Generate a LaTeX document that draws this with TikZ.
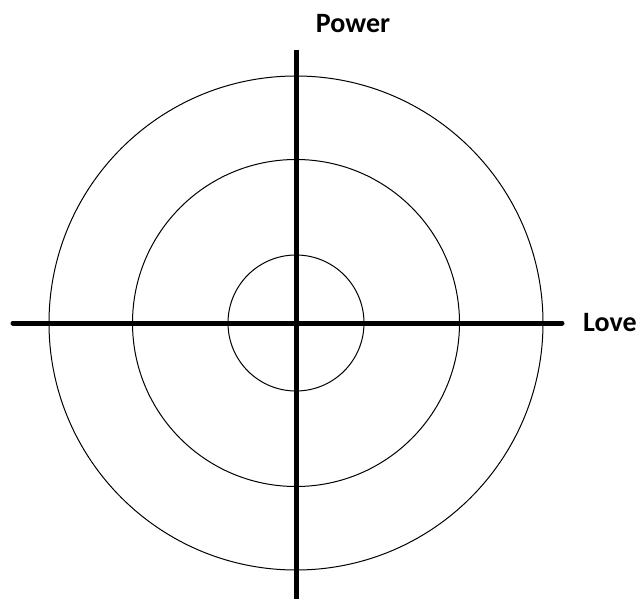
\documentclass[tikz,border=0pt]{standalone}
\usepackage{fontspec}
\setmainfont{Carlito}
\begin{document}
\begin{tikzpicture}[x=1pt,y=-1pt,
  ring/.style={draw=black,line width=1pt},
  axis/.style={draw=black,line width=5pt,line cap=round},
  lbl/.style={font=\bfseries\fontsize{28}{31}\selectfont,inner sep=0pt}]
\useasboundingbox (0,0) rectangle (640,599);
\coordinate (c) at (296,323);
\draw[ring] (c) circle[radius=247];
\draw[ring] (c) circle[radius=163.5];
\draw[ring] (c) circle[radius=68];
\coordinate (l) at (13,323);
\coordinate (r) at (562,323);
\coordinate (t) at (296,50);
\coordinate (b) at (296,605);
\draw[axis] (l) -- (r);
\draw[axis,line cap=butt] (t) -- (b);
\node[lbl,anchor=base] (power) at (353,33) {Power};
\node[lbl,anchor=west] (love) at (583,323) {Love};
\end{tikzpicture}
\end{document}
